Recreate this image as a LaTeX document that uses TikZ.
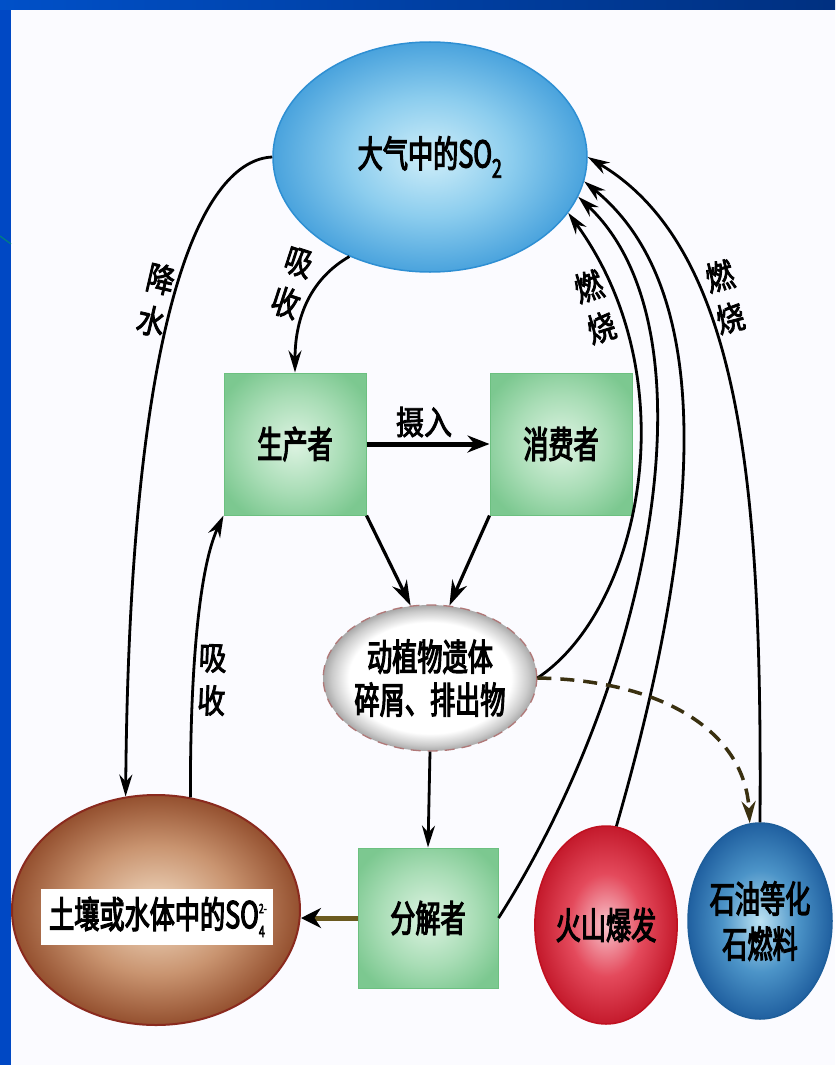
\documentclass[tikz,border=0pt]{standalone}
\usepackage{fontspec}
\newfontfamily\cjk[FakeStretch=0.68,FakeBold=3]{Noto Sans CJK SC}
\newfontfamily\cjklbl[FakeStretch=0.85,FakeBold=2.5]{Noto Sans CJK SC}
\usetikzlibrary{arrows.meta,shapes.geometric}
\definecolor{greenin}{HTML}{DDF3E2}
\definecolor{greenmid}{HTML}{A9DDB6}
\definecolor{greenout}{HTML}{7CC890}
\definecolor{greenline}{HTML}{6CC080}
\definecolor{skyin}{HTML}{CFEEF9}
\definecolor{skymid}{HTML}{8CCDEE}
\definecolor{skyout}{HTML}{4AA3DD}
\definecolor{skyline}{HTML}{2E8FD3}
\definecolor{soilin}{HTML}{F2DCC4}
\definecolor{soilmid}{HTML}{C99470}
\definecolor{soilout}{HTML}{94502F}
\definecolor{soilline}{HTML}{8A2A1E}
\definecolor{volcin}{HTML}{F8C4CC}
\definecolor{volcmid}{HTML}{E44A5C}
\definecolor{volcout}{HTML}{C41A2C}
\definecolor{volcline}{HTML}{C01020}
\definecolor{fossin}{HTML}{BCE2F2}
\definecolor{fossmid}{HTML}{4C94C8}
\definecolor{fossout}{HTML}{2060A0}
\definecolor{fossline}{HTML}{1E5E9A}
\definecolor{debgray}{HTML}{A8A8A8}
\definecolor{debline}{HTML}{B07878}
\definecolor{framea}{HTML}{0050C8}
\definecolor{frameb}{HTML}{003080}
\definecolor{frameleft}{HTML}{0048C4}
\definecolor{paper}{HTML}{FBFBFF}
\definecolor{olive}{HTML}{6B5A20}
\definecolor{dashcol}{HTML}{3A3010}
\pgfdeclareradialshading{skyshade}{\pgfpoint{0bp}{0bp}}{color(0bp)=(skyin); color(13bp)=(skymid); color(25bp)=(skyout); color(50bp)=(skyout)}
\pgfdeclareradialshading{greenshade}{\pgfpoint{0bp}{0bp}}{color(0bp)=(greenin); color(17bp)=(greenmid); color(30bp)=(greenout); color(50bp)=(greenout)}
\pgfdeclareradialshading{soilshade}{\pgfpoint{0bp}{0bp}}{color(0bp)=(soilin); color(14bp)=(soilmid); color(25bp)=(soilout); color(50bp)=(soilout)}
\pgfdeclareradialshading{volcshade}{\pgfpoint{0bp}{0bp}}{color(0bp)=(volcin); color(13bp)=(volcmid); color(25bp)=(volcout); color(50bp)=(volcout)}
\pgfdeclareradialshading{fossshade}{\pgfpoint{0bp}{0bp}}{color(0bp)=(fossin); color(13bp)=(fossmid); color(25bp)=(fossout); color(50bp)=(fossout)}
\pgfdeclareradialshading{debshade}{\pgfpoint{0bp}{0bp}}{color(0bp)=(white); color(19bp)=(white); color(23bp)=(debgray!60); color(25bp)=(debgray); color(50bp)=(debgray)}
\tikzset{
  big/.style={font=\cjk\fontsize{37}{48}\selectfont, align=center},
  lbl/.style={font=\cjklbl\fontsize{33}{43}\selectfont, align=center, inner sep=0pt},
  greenbox/.style={rectangle, minimum width=142pt, minimum height=142pt, inner sep=0pt, shading=greenshade, draw=greenline, line width=1pt, big},
  oval/.style={ellipse, inner sep=0pt, big},
  arr/.style={-{Stealth[length=22pt,width=13pt]}, line width=2.8pt},
  arrbig/.style={-{Stealth[length=25pt,width=16pt]}, line width=3.2pt},
  arrthick/.style={-{Stealth[length=22pt,width=17pt]}, line width=5pt},
  olivearr/.style={-{Stealth[length=20pt,width=20pt,black]}, line width=5pt, draw=olive},
  dasharr/.style={-{Stealth[length=22pt,width=14pt]}, line width=3.5pt, draw=dashcol, dash pattern=on 14pt off 9pt}
}
\begin{document}
\begin{tikzpicture}[x=1pt,y=-1pt]
\useasboundingbox (0,0) rectangle (835,1065);
% slide background
\fill[paper] (0,0) rectangle (835,1065);
\fill[frameleft] (0,0) rectangle (11,1065);
\shade[left color=framea, right color=frameb] (0,0) rectangle (835,10);
\draw[teal, line width=1.2pt] (0,236) -- (11,244);

% nodes
\node[oval, minimum width=314pt, minimum height=230pt, shading=skyshade, draw=skyline, line width=1.5pt] (sky) at (430,157) {大气中的SO\textsubscript{2}};
\node[greenbox] (producer) at (295,444) {生产者};
\node[greenbox] (consumer) at (561,444) {消费者};
\node[oval, minimum width=200pt, minimum height=146pt, shading=debshade, draw=debline, line width=1.3pt, dash pattern=on 10pt off 7pt] (debris) at (430,678) {动植物遗体\\[-5pt]碎屑、排出物};
\node[greenbox, minimum width=140pt, minimum height=140pt] (decomposer) at (428,918) {分解者};
\node[oval, minimum width=288pt, minimum height=230pt, shading=soilshade, draw=soilline, line width=2pt] (soil) at (156,910) {};
\node[big, fill=white, minimum width=232pt, minimum height=56pt, inner sep=0pt] (soiltext) at (157,917) {土壤或水体中的SO\rlap{\raisebox{0.75ex}{\fontsize{13}{13}\selectfont 2-}}\raisebox{-0.45ex}{\fontsize{16}{16}\selectfont 4}};
\node[oval, minimum width=142pt, minimum height=198pt, shading=volcshade, draw=volcline, line width=1.5pt] (volcano) at (606,925) {火山爆发};
\node[oval, minimum width=144pt, minimum height=196pt, shading=fossshade, draw=fossline, line width=1.5pt] (fossil) at (760,921) {石油等化\\[-3pt]石燃料};

% labels
\node[lbl, rotate=-13] (lrain) at (156,300) {降\\水};
\node[lbl, rotate=-18] (labs1) at (292,283) {吸\\收};
\node[lbl, rotate=-2] (labs2) at (212,680) {吸\\收};
\node[lbl] (leat) at (424,422) {摄入};
\node[lbl, rotate=17] (lburn1) at (595,307) {燃\\烧};
\node[lbl, rotate=14] (lburn2) at (725,297) {燃\\烧};

% connectors
\draw[arr] (sky.west) .. controls (205,160) and (130,300) .. (soil.105);
\draw[arr] (sky.231) .. controls (312,278) and (295,315) .. (producer.north);
\draw[arr] (soil.73) .. controls (190,680) and (198,570) .. (producer.south west);
\draw[arrthick] (producer.east) -- (consumer.west);
\draw[arrbig] (producer.south east) -- (debris.105);
\draw[arrbig] (consumer.south west) -- (debris.75);
\draw[arr] (debris.south) -- (decomposer.north);
\draw[olivearr] (decomposer.west) -- (soil.east |- decomposer.west);
\draw[arr] (debris.east) .. controls (640,610) and (690,380) .. (sky.-22);
\draw[arr] (decomposer.east) .. controls (650,680) and (720,330) .. (sky.-15);
\draw[arr] (volcano.84) .. controls (690,570) and (730,300) .. (sky.-9);
\draw[arr] (fossil.north) .. controls (762,500) and (745,250) .. (sky.east);
\draw[dasharr] (debris.east) .. controls (660,680) and (745,730) .. (fossil.96);
\end{tikzpicture}
\end{document}
